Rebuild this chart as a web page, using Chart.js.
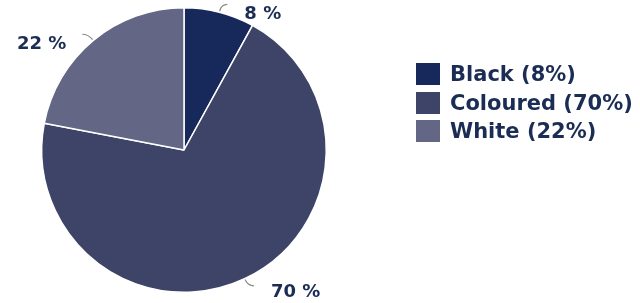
<!DOCTYPE html>
<html>
<head>
<meta charset="utf-8">
<script src="https://cdn.jsdelivr.net/npm/chart.js@4"></script>
<style>
  html, body { margin: 0; padding: 0; background: #fff; }
  #wrap { position: relative; width: 640px; height: 303px; }
  #legend { position: absolute; left: 416px; top: 60px; font-family: "DejaVu Sans", sans-serif; font-weight: bold; font-size: 21px; color: #1b2d54; }
  .row { display: flex; align-items: center; height: 28.5px; }
  .box { width: 24px; height: 22px; margin-right: 10px; }
</style>
</head>
<body>
<div id="wrap">
  <canvas id="pieChart" width="640" height="303"></canvas>
  <div id="legend"></div>
</div>
<script>
// ------------------------------------------------------
// Data
// ------------------------------------------------------

const categories = ["Black", "Coloured", "White"];

const shares = [8, 70, 22];

const sliceColors = ["#16295a", "#3d4467", "#636684"];

const textColor = "#1b2d54";

// ------------------------------------------------------
// Legend (html)
// ------------------------------------------------------

const legendEl = document.querySelector("#legend");

categories.forEach((name, i) => {
    const row = document.createElement("div");
    row.className = "row";
    row.innerHTML = '<div class="box" style="background:' + sliceColors[i] + '"></div>' +
        '<span>' + name + ' (' + shares[i] + '%)</span>';
    legendEl.appendChild(row);
});

// ------------------------------------------------------
// Outside labels with small leader lines
// ------------------------------------------------------

const outsideLabels = {
    id: "outsideLabels",
    afterDatasetsDraw(chart) {
        const ctx = chart.ctx;
        const arcs = chart.getDatasetMeta(0).data;
        ctx.save();
        ctx.font = "bold 18px 'DejaVu Sans'";
        ctx.fillStyle = textColor;
        ctx.textBaseline = "middle";
        arcs.forEach((arc, i) => {
            const p = arc.getProps(["x", "y", "startAngle", "endAngle", "outerRadius"], true);
            const mid = (p.startAngle + p.endAngle) / 2;
            const cos = Math.cos(mid);
            const sin = Math.sin(mid);
            const right = cos >= 0;
            const x0 = p.x + cos * (p.outerRadius + 1);
            const y0 = p.y + sin * (p.outerRadius + 1);
            const x1 = p.x + cos * (p.outerRadius + 8);
            const y1 = p.y + sin * (p.outerRadius + 8);
            const x2 = x1 + (right ? 6 : -6);
            ctx.strokeStyle = "#8a8a8a";
            ctx.lineWidth = 1.2;
            ctx.beginPath();
            ctx.moveTo(x0, y0);
            ctx.quadraticCurveTo(x1, y1, x2, y1);
            ctx.stroke();
            ctx.textAlign = right ? "left" : "right";
            ctx.fillText(shares[i] + " %", x2 + (right ? 17 : -16), y1 + (sin > 0 ? 6 : 10));
        });
        ctx.restore();
    }
};

// ------------------------------------------------------
// Pie Chart
// ------------------------------------------------------

new Chart(document.querySelector("#pieChart"), {
    type: "pie",
    data: {
        labels: categories,
        datasets: [{
            data: shares,
            backgroundColor: sliceColors,
            borderColor: "#ffffff",
            borderWidth: 1.5
        }]
    },
    options: {
        responsive: false,
        animation: false,
        layout: {
            padding: { left: 41, right: 313, top: 7, bottom: 10 }
        },
        plugins: {
            legend: { display: false },
            tooltip: { enabled: false }
        }
    },
    plugins: [outsideLabels]
});
</script>
</body>
</html>
